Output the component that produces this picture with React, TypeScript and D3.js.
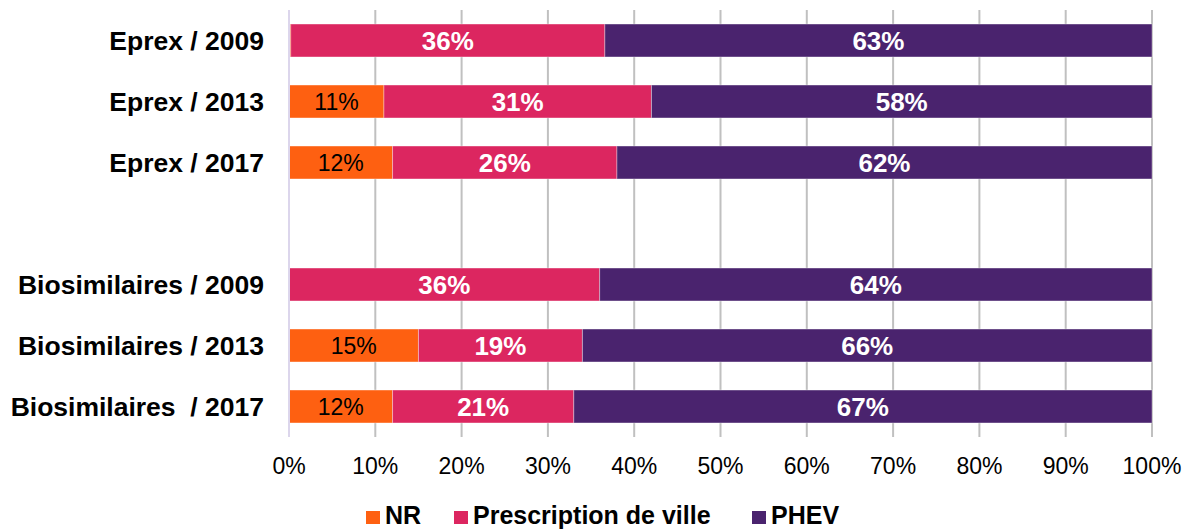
import { useEffect, useRef } from 'react'
import * as d3 from 'd3'

const categories = [
  'Eprex / 2009',
  'Eprex / 2013',
  'Eprex / 2017',
  '',
  'Biosimilaires / 2009',
  'Biosimilaires / 2013',
  'Biosimilaires  / 2017',
]
const nrValues = [0.2, 11, 12, null, 0, 15, 12]
const prescriptionValues = [36.4, 31, 26, null, 36, 19, 21]
const phevValues = [63.4, 58, 62, null, 64, 66, 67]
const seriesNames = ['NR', 'Prescription de ville', 'PHEV']
const ticks = [0, 10, 20, 30, 40, 50, 60, 70, 80, 90, 100]

const colors = ['#fe6011', '#dc2660', '#4a236e']
const FONT = '"Liberation Sans", Arial, sans-serif'

export default function App() {
  const svgRef = useRef<SVGSVGElement>(null)
  const width = 1191
  const height = 530

  useEffect(() => {
    if (!svgRef.current) return
    const svg = d3.select(svgRef.current)
    svg.selectAll('*').remove()

    const margin = { top: 10, right: 39, bottom: 93, left: 289 }
    const innerWidth = width - margin.left - margin.right
    const innerHeight = height - margin.top - margin.bottom

    const g = svg.append('g').attr('transform', `translate(${margin.left},${margin.top})`)

    const x = d3.scaleLinear().domain([0, 100]).range([0, innerWidth])
    const keys = categories.map((c, i) => `${i}|${c}`)
    const y = d3.scaleBand<string>()
      .domain(keys)
      .range([0, innerHeight])
      .paddingInner(0.46)
      .paddingOuter(0.23)

    // grid
    g.selectAll('.grid')
      .data(ticks.slice(1))
      .enter().append('line')
      .attr('x1', d => x(d))
      .attr('x2', d => x(d))
      .attr('y1', 0)
      .attr('y2', innerHeight)
      .attr('stroke', '#c0c0c0')
      .attr('stroke-width', 2)

    // tick labels
    g.selectAll('.tick-label')
      .data(ticks)
      .enter().append('text')
      .attr('x', d => x(d))
      .attr('y', innerHeight + 37)
      .attr('text-anchor', 'middle')
      .style('font-family', FONT)
      .style('font-size', '23px')
      .style('fill', '#000')
      .text(d => `${d}%`)

    // category labels
    g.selectAll('.cat-label')
      .data(keys.filter((_, i) => categories[i] !== ''))
      .enter().append('text')
      .attr('x', -25)
      .attr('y', d => (y(d) || 0) + y.bandwidth() / 2)
      .attr('dy', '0.36em')
      .attr('text-anchor', 'end')
      .attr('xml:space', 'preserve')
      .style('white-space', 'pre')
      .style('font-family', FONT)
      .style('font-size', '26.5px')
      .style('font-weight', 'bold')
      .style('fill', '#000')
      .text(d => d.split('|')[1])

    // stacked segments
    const rows = categories.map((c, i) => ({
      key: keys[i],
      values: [nrValues[i], prescriptionValues[i], phevValues[i]],
    })).filter(r => r.values[0] !== null)

    rows.forEach(row => {
      let acc = 0
      row.values.forEach((v, si) => {
        const val = v as number
        const x0 = acc
        acc += val
        if (val <= 0) return
        const yTop = y(row.key) || 0
        g.append('rect')
          .attr('x', x(x0))
          .attr('y', yTop)
          .attr('width', x(x0 + val) - x(x0))
          .attr('height', y.bandwidth())
          .attr('fill', colors[si])
          .attr('stroke', 'rgba(255,255,255,0.35)')
          .attr('stroke-width', 1)
        if (val >= 5) {
          g.append('text')
            .attr('x', x(x0 + val / 2))
            .attr('y', yTop + y.bandwidth() / 2)
            .attr('dy', '0.36em')
            .attr('text-anchor', 'middle')
            .style('font-family', FONT)
            .style('font-size', si === 0 ? '23px' : '26px')
            .style('font-weight', si === 0 ? 'normal' : 'bold')
            .style('fill', si === 0 ? '#000' : '#fff')
            .text(`${Math.round(val)}%`)
        }
      })
    })

    // axis line (on top of bars)
    g.append('line')
      .attr('x1', x(0))
      .attr('x2', x(0))
      .attr('y1', 0)
      .attr('y2', innerHeight)
      .attr('stroke', '#dcd6ec')
      .attr('stroke-width', 2)

    // legend
    const legendX = [366, 454, 752]
    const legend = svg.append('g').attr('transform', `translate(0, 524)`)
    seriesNames.forEach((name, i) => {
      legend.append('rect')
        .attr('x', legendX[i])
        .attr('y', -13)
        .attr('width', 14)
        .attr('height', 13)
        .attr('fill', colors[i])
      legend.append('text')
        .attr('x', legendX[i] + 19)
        .attr('y', 0)
        .style('font-family', FONT)
        .style('font-size', '25px')
        .style('font-weight', 'bold')
        .style('fill', '#000')
        .text(name)
    })
  }, [])

  return (
    <div style={{ position: 'absolute', left: 0, top: 0 }}>
      <svg ref={svgRef} width={width} height={height} style={{ display: 'block', background: '#fff' }} />
    </div>
  )
}
